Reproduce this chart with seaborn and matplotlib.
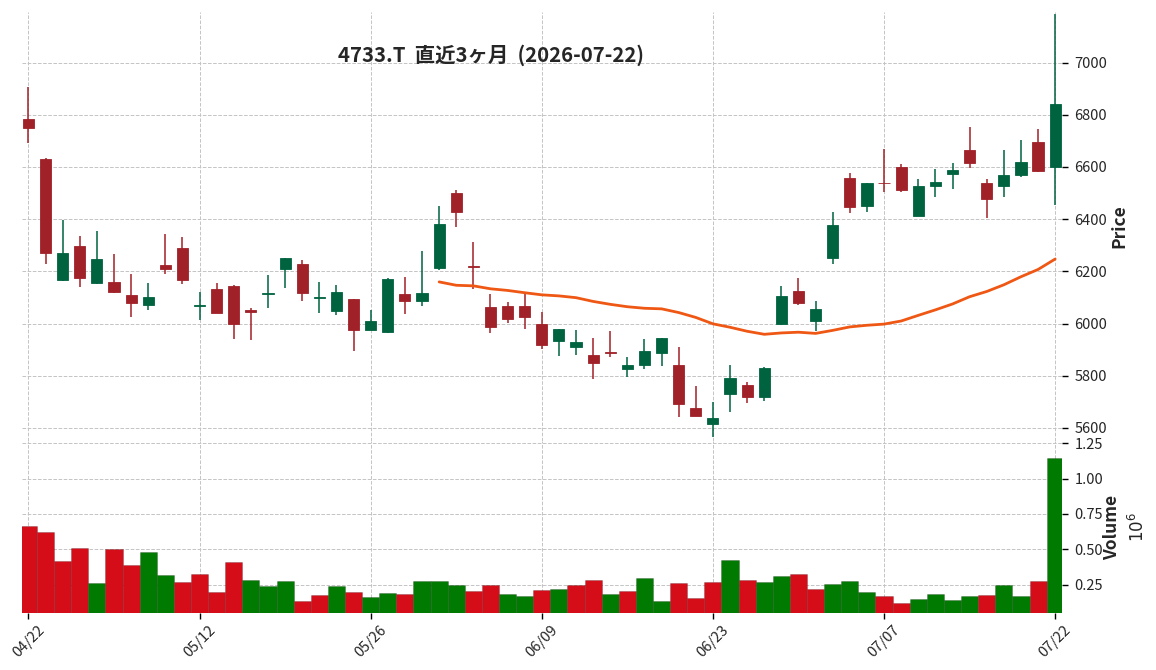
import numpy as np
import pandas as pd
import matplotlib
matplotlib.use("Agg")
import matplotlib.pyplot as plt
import seaborn as sns

# ---- data ----
dates = [
    "2026-04-22", "2026-04-23", "2026-04-24", "2026-04-27", "2026-04-28", "2026-04-30",
    "2026-05-01", "2026-05-07", "2026-05-08", "2026-05-11", "2026-05-12", "2026-05-13",
    "2026-05-14", "2026-05-15", "2026-05-18", "2026-05-19", "2026-05-20", "2026-05-21",
    "2026-05-22", "2026-05-25", "2026-05-26", "2026-05-27", "2026-05-28", "2026-05-29",
    "2026-06-01", "2026-06-02", "2026-06-03", "2026-06-04", "2026-06-05", "2026-06-08",
    "2026-06-09", "2026-06-10", "2026-06-11", "2026-06-12", "2026-06-15", "2026-06-16",
    "2026-06-17", "2026-06-18", "2026-06-19", "2026-06-22", "2026-06-23", "2026-06-24",
    "2026-06-25", "2026-06-26", "2026-06-29", "2026-06-30", "2026-07-01", "2026-07-02",
    "2026-07-03", "2026-07-06", "2026-07-07", "2026-07-08", "2026-07-09", "2026-07-10",
    "2026-07-13", "2026-07-14", "2026-07-15", "2026-07-16", "2026-07-17", "2026-07-21",
    "2026-07-22",
]
opens = [
    6782, 6630, 6166, 6297, 6155, 6158, 6108, 6071, 6223, 6288,
    6068, 6132, 6144, 6051, 6112, 6210, 6228, 6098, 6049, 6094,
    5976, 5967, 6113, 6087, 6214, 6501, 6222, 6063, 6069, 6069,
    6000, 5934, 5911, 5879, 5892, 5827, 5841, 5888, 5841, 5676,
    5615, 5732, 5763, 5717, 5997, 6126, 6011, 6252, 6559, 6452,
    6540, 6599, 6413, 6529, 6574, 6667, 6540, 6526, 6568, 6697,
    6600,
]
highs = [
    6908, 6635, 6395, 6337, 6353, 6265, 6191, 6157, 6344, 6333,
    6122, 6154, 6146, 6058, 6185, 6252, 6242, 6160, 6146, 6095,
    6053, 6173, 6180, 6278, 6449, 6512, 6312, 6114, 6083, 6113,
    6045, 5979, 5977, 5946, 5973, 5870, 5939, 5945, 5912, 5759,
    5698, 5842, 5777, 5833, 6144, 6174, 6087, 6427, 6576, 6540,
    6669, 6610, 6554, 6591, 6615, 6754, 6553, 6665, 6705, 6746,
    7186,
]
lows = [
    6691, 6229, 6163, 6140, 6153, 6117, 6026, 6053, 6191, 6153,
    6015, 6040, 5942, 5938, 6058, 6138, 6086, 6040, 6031, 5896,
    5975, 5965, 6038, 6069, 6204, 6369, 6131, 5962, 6003, 5978,
    5904, 5874, 5878, 5786, 5870, 5795, 5824, 5839, 5641, 5645,
    5564, 5662, 5697, 5704, 5996, 6071, 5972, 6228, 6423, 6427,
    6505, 6504, 6412, 6486, 6515, 6596, 6406, 6486, 6563, 6579,
    6455,
]
closes = [
    6750, 6270, 6270, 6175, 6246, 6120, 6079, 6100, 6209, 6166,
    6072, 6041, 5999, 6046, 6116, 6251, 6118, 6101, 6121, 5976,
    6009, 6171, 6087, 6117, 6382, 6426, 6216, 5987, 6018, 6026,
    5918, 5978, 5929, 5850, 5888, 5841, 5894, 5944, 5692, 5646,
    5639, 5790, 5717, 5831, 6107, 6078, 6057, 6378, 6448, 6539,
    6537, 6513, 6528, 6544, 6590, 6614, 6479, 6570, 6621, 6586,
    6840,
]
volumes = [
    663000, 621000, 415000, 507000, 259000, 500000, 387000, 479000, 316000, 266000,
    323000, 195000, 408000, 280000, 238000, 273000, 132000, 175000, 238000, 195000,
    160000, 188000, 181000, 273000, 273000, 245000, 202000, 245000, 181000, 167000,
    209000, 216000, 245000, 280000, 181000, 202000, 295000, 132000, 260000, 153000,
    266000, 423000, 280000, 266000, 309000, 323000, 217000, 252000, 273000, 195000,
    167000, 117000, 146000, 181000, 139000, 167000, 174000, 245000, 167000, 273000,
    1147000,
]

title = "4733.T  直近3ヶ月  (2026-07-22)"

# ---- colours (charles-like style) ----
up_col, down_col = "#006340", "#A02128"
vol_up, vol_down = "#007a00", "#d50d18"
ma_col = "#ef5714"

df = pd.DataFrame({"date": pd.to_datetime(dates), "open": opens, "high": highs,
                   "low": lows, "close": closes, "volume": volumes})
df["idx"] = np.arange(len(df))
df["ma25"] = df["close"].rolling(25).mean()
df["up"] = df["close"] > df["open"]
# volume colour follows close vs previous close
vup = df["close"] > df["close"].shift(1)
vup.iloc[0] = df["up"].iloc[0]
df["vol_up"] = vup

sns.set_theme(style="whitegrid")
plt.rcParams["font.family"] = ["Noto Sans CJK JP", "DejaVu Sans"]

fig = plt.figure(figsize=(11.56, 6.70), dpi=100)
left, width = 0.019, 0.8997
ax = fig.add_axes([left, 0.3418, width, 0.6407])
axv = fig.add_axes([left, 0.0851, width, 0.2567], sharex=ax)

# --- candles ---
cols = np.where(df["up"], up_col, down_col)
ax.vlines(df["idx"], df["low"], df["high"], colors=cols, linewidth=1.1, zorder=2)
ax.bar(df["idx"], df["close"] - df["open"], bottom=df["open"], width=0.65,
       color=cols, edgecolor=cols, linewidth=0.6, zorder=3)

# --- 25-day moving average ---
sns.lineplot(data=df, x="idx", y="ma25", ax=ax, color=ma_col, linewidth=2.0, zorder=4)

# --- volume ---
vcols = np.where(df["vol_up"], vol_up, vol_down)
axv.bar(df["idx"], df["volume"] / 1e6, width=1.0, color=vcols,
        edgecolor=(0, 0, 0, 0.25), linewidth=0.5, zorder=3)

# --- axes styling ---
tick_pos = df["idx"].iloc[::10].tolist()
tick_lab = df["date"].iloc[::10].dt.strftime("%m/%d").tolist()

for a in (ax, axv):
    a.set_facecolor("white")
    for s in a.spines.values():
        s.set_visible(False)
    a.grid(True, linestyle="--", linewidth=0.7, color="#c4c4c4")
    a.set_axisbelow(True)
    a.yaxis.tick_right()
    a.yaxis.set_label_position("right")
    a.tick_params(axis="y", right=True, left=False, length=4, width=1,
                  color="black", labelsize=10.5, pad=5)

ax.set_xlim(-0.38, 60.4)
ax.set_xticks(tick_pos)
ax.tick_params(axis="x", bottom=False, labelbottom=False)
ax.set_ylim(5550, 7195)
ax.set_yticks(np.arange(5600, 7001, 200))
ax.set_xlabel("")
ax.set_ylabel("Price", fontsize=12.5, fontweight="bold", labelpad=2)

axv.set_ylim(0.049, 1.266)
axv.set_yticks([0.25, 0.50, 0.75, 1.00, 1.25])
axv.set_yticklabels(["0.25", "0.50", "0.75", "1.00", "1.25"])
axv.set_xticks(tick_pos)
axv.set_xticklabels(tick_lab, rotation=45, ha="center")
axv.tick_params(axis="x", bottom=True, length=4, width=1, color="black",
                labelsize=10.5, pad=3)
axv.set_xlabel("")
axv.set_ylabel("Volume", fontsize=12.5, fontweight="bold", labelpad=0)
axv.text(1.073, 0.5, r"$10^{6}$", transform=axv.transAxes, rotation=90,
         ha="center", va="center", fontsize=12)

fig.text(0.425, 0.918, title, ha="center", va="center", fontsize=14.7,
         fontweight="bold")

fig.savefig("out.png", dpi=100)
